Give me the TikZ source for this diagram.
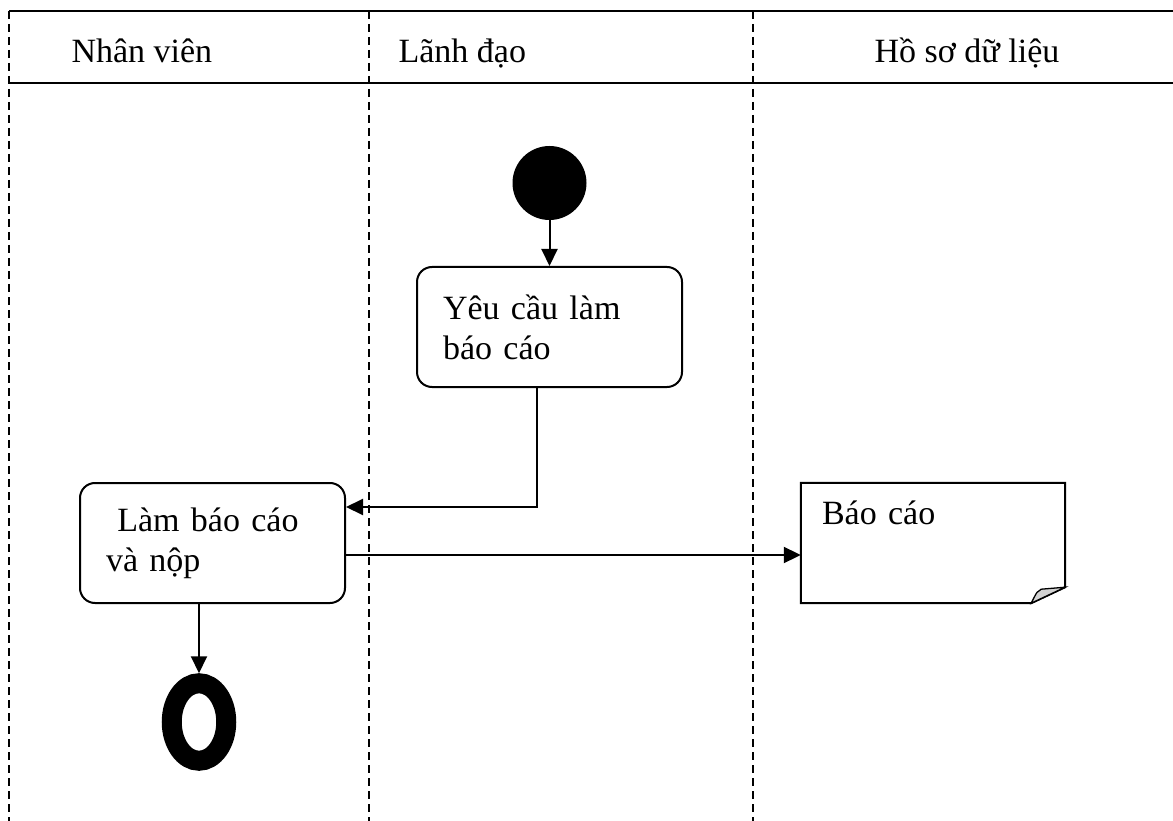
\documentclass[tikz,border=0pt]{standalone}
\usepackage{fontspec}
\setmainfont{Liberation Serif}
\usetikzlibrary{arrows.meta,calc,shapes.geometric}
\tikzset{lane/.style = {line width=1.3pt, dash pattern=on 8pt off 5pt},
  act/.style = {draw, line width=2pt, rounded corners=15pt,
    minimum width=265pt, minimum height=120pt,
    text width=213pt, inner xsep=26pt, align=left},
  flow/.style = {line width=2pt, -{Triangle[length=17pt,width=16pt]}}
}

\begin{document}
\begin{tikzpicture}[x=1pt,y=-1pt,font=\fontsize{34}{40}\selectfont]
  \useasboundingbox (0,0) rectangle (1173,821);

  \draw[line width=2pt] (9,11) -- (1173,11);
  \draw[line width=2pt] (9,83) -- (1173,83);
  \draw[lane] (9,11) -- (9,821);
  \draw[lane] (369,11) -- (369,821);
  \draw[lane] (753,11) -- (753,821);

  \node[anchor=base west] (nv) at (68,63) {Nhân viên};
  \node[anchor=base west] (ld) at (395,63) {Lãnh đạo};
  \node[anchor=base] (hs) at (967,63) {Hồ sơ dữ liệu};

  \node[circle, fill, inner sep=0, minimum size=74pt] (start) at (549.5,183) {};
  \node[act] (req) at (549.5,327) {Yêu cầu làm\\báo cáo};
  \node[act] (do) at (212.5,543) {\ Làm báo cáo\\và nộp};
  \node[minimum width=264pt, minimum height=120pt, text width=222pt,
    inner xsep=21pt, text depth=60pt, align=left] (doc) at (933,543) {Báo cáo};
  \node[ellipse, draw, line width=20pt, inner sep=0,
    minimum width=54.5pt, minimum height=77.5pt] (fin) at (199,722) {};

  % folded corner of the document
  \draw[line width=2pt] (doc.south west) -- (doc.north west) -- (doc.north east)
    -- ($(doc.south east)+(0,-16)$) -- ($(doc.south east)+(-34,0)$) -- cycle;
  \filldraw[fill=gray!35, line width=1.3pt] ($(doc.south east)+(-34,0)$)
    .. controls ($(doc.south east)+(-28,-12)$) .. ($(doc.south east)+(-24,-14)$)
    -- ($(doc.south east)+(0,-16)$) -- cycle;

  \draw[flow] (start) -- (req);
  \draw[flow] ([xshift=-12.5pt]req.south) |- ([yshift=36pt]do.east);
  \draw[flow] ([yshift=-12pt]do.east) -- ([yshift=-12pt]doc.west);
  \draw[flow] (do.south -| fin.north) -- (fin.north);

\end{tikzpicture}
\end{document}
